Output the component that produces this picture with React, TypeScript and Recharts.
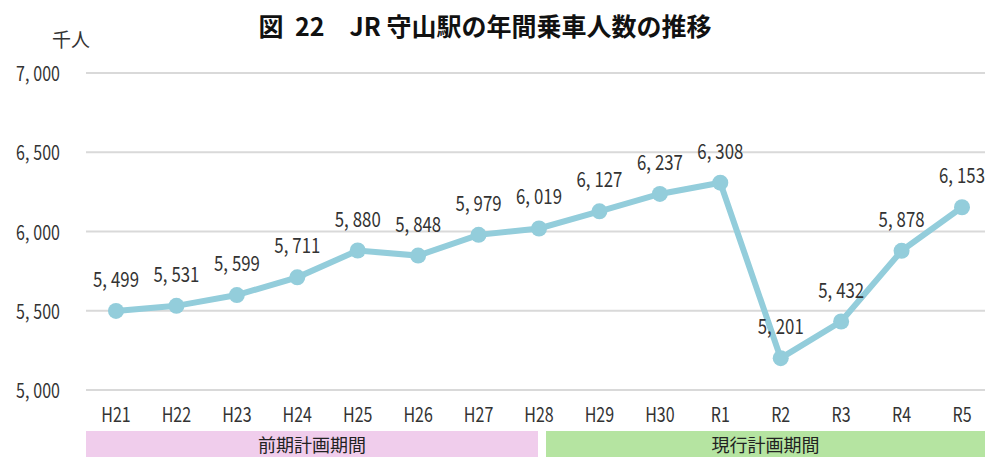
import React from "react";
import { LineChart, Line, XAxis, YAxis, CartesianGrid, LabelList } from "recharts";

const categories = ["H21","H22","H23","H24","H25","H26","H27","H28","H29","H30","R1","R2","R3","R4","R5"];
const riders = [5499,5531,5599,5711,5880,5848,5979,6019,6127,6237,6308,5201,5432,5878,6153];
const yTicks = [5000,5500,6000,6500,7000];
const periods = [
  { name: "前期計画期間", from: "H21", to: "H28", color: "#F0CDEC" },
  { name: "現行計画期間", from: "H28", to: "R5", color: "#B5E4A1" },
];

const data = categories.map((c, i) => ({ year: c, value: riders[i] }));

const W = 991, H = 457;
const PLOT_LEFT = 86, PLOT_RIGHT = 985, PLOT_TOP = 73, PLOT_BOTTOM = 390;
const PAD_L = 30, PAD_R = 23;
const STEP = (PLOT_RIGHT - PAD_R - (PLOT_LEFT + PAD_L)) / (categories.length - 1);
const NUM_FONT = "'Noto Sans CJK JP', sans-serif";
const JP_FONT = "'Noto Sans CJK JP', sans-serif";
const LINE_COLOR = "#93CDDB";
const SX = 0.8;

const CondText = ({ x, y, anchor, size, children }: any) => (
  <g transform={`translate(${x},${y}) scale(${SX},1)`}>
    <text x={0} y={0} textAnchor={anchor} fontSize={size} fill="#333" fontFamily={NUM_FONT}>
      {children}
    </text>
  </g>
);

const NumText = ({ value }: { value: number }) => {
  const s = value.toLocaleString("en-US");
  const [a, b] = s.split(",");
  return (
    <>
      {a},<tspan dx={5}>{b}</tspan>
    </>
  );
};

const YTick = (props: any) => {
  const { y, payload } = props;
  return (
    <CondText x={PLOT_LEFT - 26} y={y + 8} anchor="end" size={20}>
      <NumText value={payload.value} />
    </CondText>
  );
};

const XTick = (props: any) => {
  const { x, payload, index } = props;
  const bandTop = PLOT_BOTTOM + 41;
  const bandH = H - bandTop;
  const extras: any[] = [];
  periods.forEach((p, pi) => {
    const fi = categories.indexOf(p.from);
    const ti = categories.indexOf(p.to);
    if (index === fi) {
      const startX = pi === 0 ? x - PAD_L : x + 7;
      const endX = pi === 0 ? x + (ti - fi) * STEP - 1 : x + (ti - fi) * STEP + PAD_R;
      extras.push(
        <g key={p.name}>
          <rect x={startX} y={bandTop} width={endX - startX} height={bandH} fill={p.color} />
          <text x={(startX + endX) / 2} y={bandTop + 21} textAnchor="middle" fontSize={18} fill="#222" fontFamily={JP_FONT}>
            {p.name}
          </text>
        </g>
      );
    }
  });
  return (
    <g>
      {extras}
      <CondText x={x} y={PLOT_BOTTOM + 32} anchor="middle" size={20}>
        {payload.value}
      </CondText>
    </g>
  );
};

const DataLabel = (props: any) => {
  const { x, y, value } = props;
  return (
    <CondText x={x} y={y - 24} anchor="middle" size={21}>
      <NumText value={value} />
    </CondText>
  );
};

export default function App() {
  return (
    <div style={{ position: "absolute", left: 0, top: 0, width: W, height: H, background: "#fff" }}>
      <div
        style={{
          position: "absolute", left: 0, top: 10, width: 970, textAlign: "center",
          fontFamily: JP_FONT, fontWeight: 700, fontSize: 25, color: "#111", lineHeight: "30px",
          whiteSpace: "pre",
        }}
      >
        {"図  22　JR 守山駅の年間乗車人数の推移"}
      </div>
      <div
        style={{
          position: "absolute", left: 52, top: 28, fontFamily: JP_FONT, fontSize: 19, color: "#333", lineHeight: "22px",
        }}
      >
        千人
      </div>
      <LineChart
        width={W}
        height={H}
        data={data}
        margin={{ top: PLOT_TOP, right: W - PLOT_RIGHT, bottom: 0, left: 0 }}
      >
        <CartesianGrid horizontal vertical={false} stroke="#D9D9D9" strokeWidth={2} />
        <XAxis
          dataKey="year"
          scale="point"
          padding={{ left: PAD_L, right: PAD_R }}
          axisLine={false}
          tickLine={false}
          height={H - PLOT_BOTTOM}
          tick={<XTick />}
          interval={0}
        />
        <YAxis
          domain={[5000, 7000]}
          ticks={yTicks}
          width={PLOT_LEFT}
          axisLine={false}
          tickLine={false}
          tick={<YTick />}
        />
        <Line
          type="linear"
          dataKey="value"
          stroke={LINE_COLOR}
          strokeWidth={6}
          dot={{ r: 8, fill: LINE_COLOR, stroke: LINE_COLOR, strokeWidth: 0 }}
          isAnimationActive={false}
        >
          <LabelList dataKey="value" content={<DataLabel />} />
        </Line>
      </LineChart>
    </div>
  );
}
